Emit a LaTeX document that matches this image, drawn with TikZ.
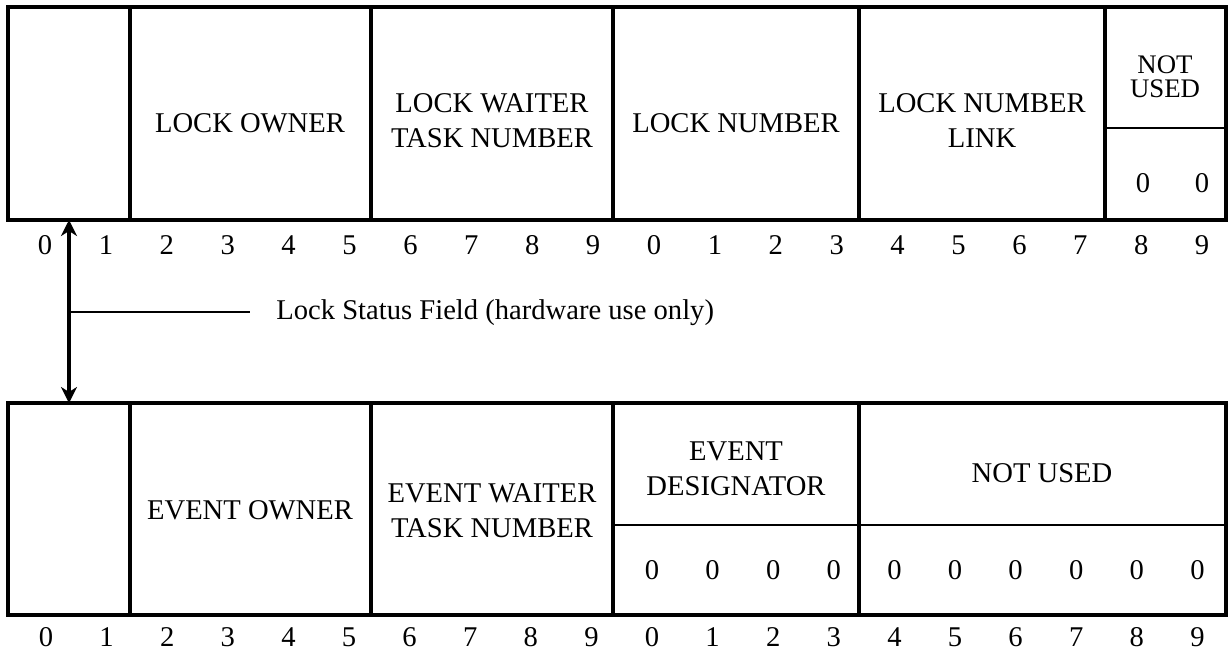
\documentclass[tikz,border=0pt]{standalone}
\usepackage{fontspec}
\setmainfont{Liberation Serif}
\usetikzlibrary{arrows.meta}
\begin{document}
\begin{tikzpicture}[x=0.5pt,y=-0.5pt,
  frame/.style={line width=1.8pt},
  sub/.style={line width=1.3pt},
  lbl/.style={inner sep=0pt,align=center,font=\fontsize{14.3}{17.5}\selectfont},
  word/.style={inner sep=0pt,font=\fontsize{13.4}{13.4}\selectfont},
  bit/.style={inner sep=0pt,font=\fontsize{14.3}{17}\selectfont},
  conn/.style={line width=1.6pt},
]
\useasboundingbox (0,0) rectangle (1230,654);
% top word
\draw[frame] (8,7) rectangle (1226,220);
\foreach \x in {130,371,613,859,1105} \draw[frame] (\x,7) -- (\x,220);
\draw[sub] (1105,128) -- (1226,128);
\node[lbl] (lo) at (250,123) {LOCK OWNER};
\node[lbl] (lw) at (492,121) {LOCK WAITER\\TASK NUMBER};
\node[lbl] (ln) at (736,123) {LOCK NUMBER};
\node[lbl] (ll) at (982,121) {LOCK NUMBER\\LINK};
\node[word] (nu1a) at (1165,65) {NOT};
\node[word] (nu1b) at (1165,89) {USED};
\node[bit] (z1) at (1143,183) {0};
\node[bit] (z2) at (1202,183) {0};
\foreach \k in {0,...,19}{
  \pgfmathtruncatemacro{\d}{mod(\k,10)}
  \node[bit] (t\k) at ({45+60.9*\k},245) {\d};
}
% bottom word
\draw[frame] (8,403) rectangle (1226,615);
\foreach \x in {130,371,613,859} \draw[frame] (\x,403) -- (\x,615);
\draw[sub] (613,525) -- (1226,525);
\node[lbl] (eo) at (250,510) {EVENT OWNER};
\node[lbl] (ew) at (492,511) {EVENT WAITER\\TASK NUMBER};
\node[lbl] (ed) at (736,469) {EVENT\\DESIGNATOR};
\node[lbl] (nu2) at (1042,473) {NOT USED};
\foreach \k [count=\i] in {10,...,19}{
  \node[bit] (b\i) at ({46+60.6*\k},570) {0};
}
\foreach \k in {0,...,19}{
  \pgfmathtruncatemacro{\d}{mod(\k,10)}
  \node[bit] (u\k) at ({46+60.6*\k},637) {\d};
}
% lock status field
\coordinate (aT) at (69,220);
\coordinate (aB) at (69,403);
\coordinate (aM) at (69,312);
\coordinate (aE) at (250,312);
\draw[conn,{Stealth[length=8pt,width=8pt,inset=2.5pt]}-{Stealth[length=8pt,width=8pt,inset=2.5pt]}] (aT) -- (aB);
\draw[line width=1.3pt] (aM) -- (aE);
\node[lbl,anchor=west] (ls) at (276,313) {Lock Status Field (hardware use only)};
\end{tikzpicture}
\end{document}
